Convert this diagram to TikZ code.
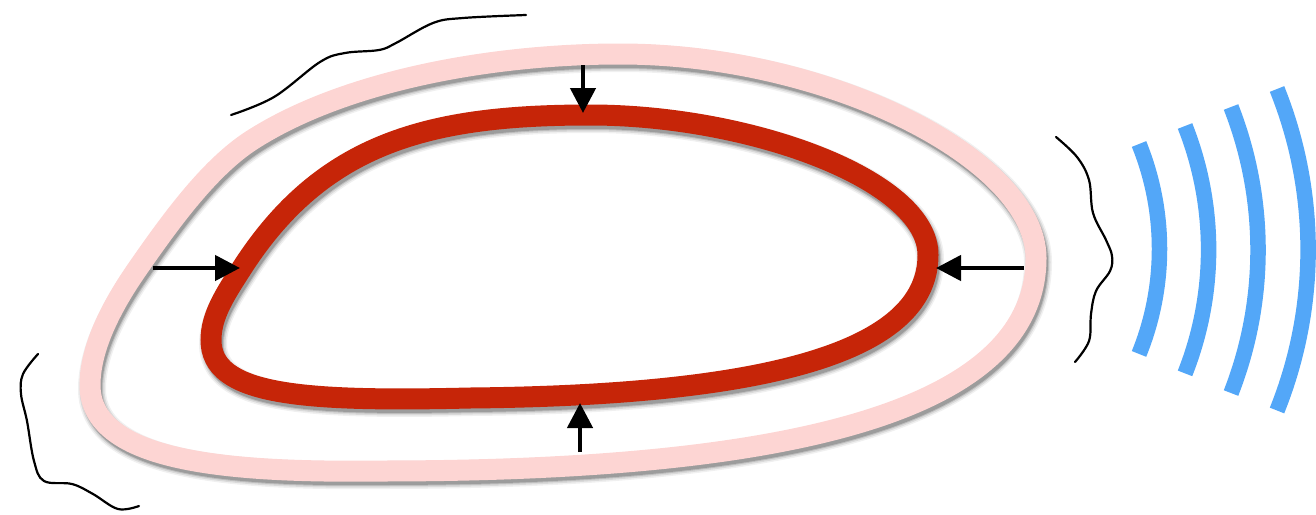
\documentclass[tikz,border=0pt]{standalone}
\usetikzlibrary{arrows.meta}
\definecolor{pinkband}{HTML}{FDD5D3}
\definecolor{redband}{HTML}{C62508}
\definecolor{waveblue}{HTML}{53A7F8}
\def\pinkloop{(620,54) .. controls (830,54) and (1036,160) .. (1036,258) .. controls (1036,420) and (760,471) .. (380,471) .. controls (220,473) and (90,460) .. (90,385) .. controls (90,345) and (115,301) .. (138,268) .. controls (172,219) and (210,167) .. (252,140) .. controls (344,81) and (490,54) .. (620,54) -- cycle}
\def\redloop{(590,115) .. controls (750,115) and (928,180) .. (928,255) .. controls (928,345) and (790,395) .. (470,398) .. controls (300,402) and (211,395) .. (211,340) .. controls (211,315) and (226,293) .. (242,268) .. controls (323,142) and (430,115) .. (590,115) -- cycle}
\begin{document}
\begin{tikzpicture}[x=1pt,y=-1pt,
  pushar/.style={line width=4.5pt, draw=black, -{Triangle[length=25pt,width=25pt]}},
  wavy/.style={line width=2.2pt, draw=black, line cap=round},
  bluearc/.style={line width=15.5pt, draw=waveblue},
  shade/.style={draw=black, opacity=#1}]
\useasboundingbox (0,0) rectangle (1316,514);
% shadows
\foreach \w/\o in {28/0.06, 25/0.09, 22/0.13, 20/0.18} {
  \draw[shade=\o, line width=\w pt, shift={(2,4)}] \pinkloop;
  \draw[shade=\o, line width=\w pt, shift={(2,4)}] \redloop;
}
% bands
\draw[line width=21pt, draw=pinkband] \pinkloop;
\draw[line width=21pt, draw=redband] \redloop;
% arrows
\coordinate (tTop) at (583,65);  \coordinate (hTop) at (583,113);
\coordinate (tBot) at (580,452); \coordinate (hBot) at (580,403);
\coordinate (tLeft) at (153,268); \coordinate (hLeft) at (240,268);
\coordinate (tRight) at (1024,268); \coordinate (hRight) at (936,268);
\draw[pushar] (tTop) -- (hTop);
\draw[pushar] (tBot) -- (hBot);
\draw[pushar] (tLeft) -- (hLeft);
\draw[pushar] (tRight) -- (hRight);
% wavy lines
\draw[wavy] plot[smooth, tension=0.6] coordinates {(231,115) (274,97) (320,62) (345,53) (379,50) (396,43) (433,23) (463,18) (526,15)};
\draw[wavy] plot[smooth, tension=0.6] coordinates {(38,354) (23,374) (21,394) (27,421) (34,461) (44,481) (72,484) (93,494) (118,509) (139,506)};
\draw[wavy] plot[smooth, tension=0.6] coordinates {(1056,137) (1077,157) (1089,180) (1093,213) (1106,240) (1112,256) (1110,271) (1096,291) (1091,314) (1089,341) (1075,362)};
% blue arcs
\draw[bluearc] (1139,144) arc[start angle=-22.1, end angle=22.1, radius=279];
\draw[bluearc] (1185,126) arc[start angle=-21.6, end angle=21.6, radius=336];
\draw[bluearc] (1231,107) arc[start angle=-21.4, end angle=21.4, radius=392];
\draw[bluearc] (1277,89) arc[start angle=-21.9, end angle=21.9, radius=431];
\end{tikzpicture}
\end{document}
